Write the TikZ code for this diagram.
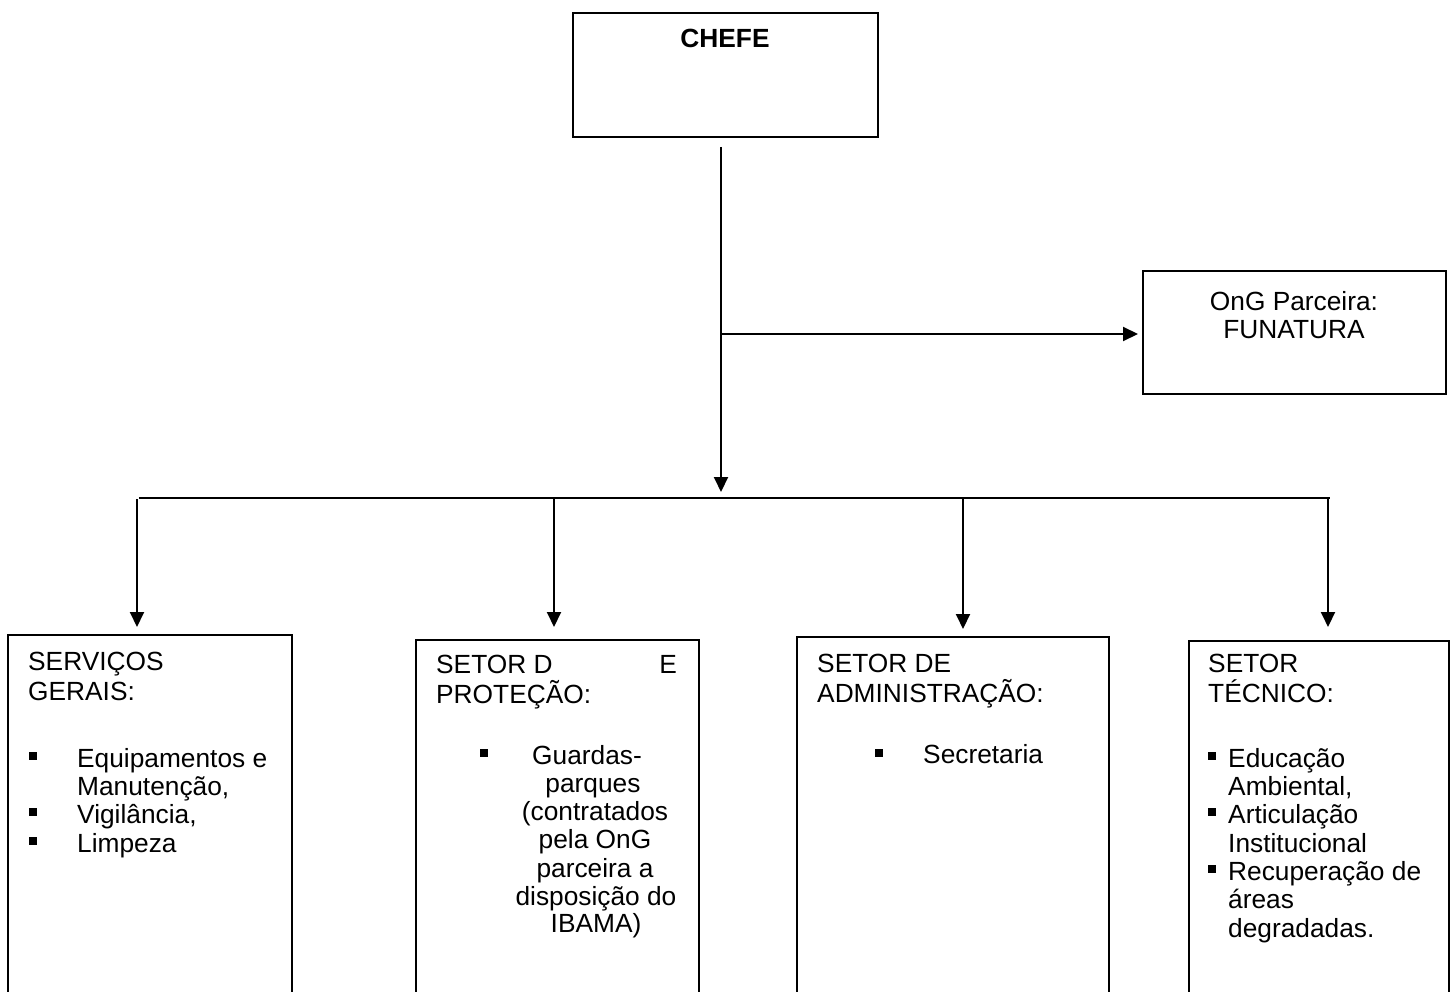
\documentclass[tikz,border=0pt]{standalone}
\usepackage{fontspec}
\setmainfont{Liberation Sans}
\usetikzlibrary{arrows.meta}
\begin{document}
\begin{tikzpicture}[x=1pt,y=-1pt,
  box/.style={draw, line width=1.6pt, rectangle, inner sep=0pt, anchor=north west},
  conn/.style={line width=2pt},
  arr/.style={conn, -{Triangle[length=15pt,width=14pt]}},
  lt/.style={anchor=base west, inner sep=0pt, font=\fontsize{26.3}{30}\selectfont},
  rt/.style={anchor=base east, inner sep=0pt, font=\fontsize{26.3}{30}\selectfont},
  ct/.style={anchor=base, inner sep=0pt, font=\fontsize{26.3}{30}\selectfont},
  bul/.style={fill, rectangle, minimum size=7.5pt, inner sep=0pt}]
\useasboundingbox (0,0) rectangle (1456,992);
\clip (0,0) rectangle (1456,992);

% top box
\node[box, minimum width=305pt, minimum height=124pt] (chefe) at (572,12) {};
\node[ct, font=\fontsize{26.3}{30}\selectfont\bfseries] (chefet) at (725,48) {CHEFE};

% partner box
\node[box, minimum width=303pt, minimum height=123pt] (ong) at (1142,270) {};
\node[ct] (ong1) at (1294,310) {OnG Parceira:};
\node[ct] (ong2) at (1294,338) {FUNATURA};

% bottom boxes
\node[box, minimum width=284pt, minimum height=370pt] (b1) at (7,634) {};
\node[box, minimum width=283pt, minimum height=370pt] (b2) at (415,639) {};
\node[box, minimum width=312pt, minimum height=370pt] (b3) at (796,636) {};
\node[box, minimum width=260pt, minimum height=370pt] (b4) at (1188,640) {};

% connectors
\coordinate (trunkA) at (721,147);
\coordinate (trunkB) at (721,492);
\coordinate (branch) at (721,334);
\draw[arr] (trunkA) -- (trunkB);
\draw[arr, shorten >=4pt] (branch) -- (ong.west |- branch);
\coordinate (busL) at (139,498);
\coordinate (busR) at (1330,498);
\draw[conn] (busL) -- (busR);
\coordinate (d1) at (137,499);
\coordinate (d2) at (554,499);
\coordinate (d3) at (963,499);
\coordinate (d4) at (1328,499);
\draw[arr, shorten >=7pt] (d1) -- (d1 |- b1.north);
\draw[arr, shorten >=12pt] (d2) -- (d2 |- b2.north);
\draw[arr, shorten >=7pt] (d3) -- (d3 |- b3.north);
\draw[arr, shorten >=13pt] (d4) -- (d4 |- b4.north);

% box 1 text
\node[lt] (s1a) at (28,670) {SERVIÇOS};
\node[lt] (s1b) at (28,700) {GERAIS:};
\node[bul] (p1a) at (33,756) {};
\node[lt] (s1c) at (77,767) {Equipamentos e};
\node[lt] (s1d) at (77,795) {Manutenção,};
\node[bul] (p1b) at (33,812) {};
\node[lt] (s1e) at (77,823) {Vigilância,};
\node[bul] (p1c) at (33,841) {};
\node[lt] (s1f) at (77,852) {Limpeza};

% box 2 text
\node[lt] (s2a) at (436,673) {SETOR D};
\node[rt] (s2b) at (677,673) {E};
\node[lt] (s2c) at (436,703) {PROTEÇÃO:};
\node[bul] (p2a) at (484,753) {};
\node[ct] (s2d) at (587,764) {Guardas-};
\node[ct] (s2e) at (593,792) {parques};
\node[ct] (s2f) at (595,820) {(contratados};
\node[ct] (s2g) at (595,848) {pela OnG};
\node[ct] (s2h) at (595,877) {parceira a};
\node[ct] (s2i) at (596,905) {disposição do};
\node[ct] (s2j) at (596,932) {IBAMA)};

% box 3 text
\node[lt] (s3a) at (817,672) {SETOR DE};
\node[lt] (s3b) at (817,702) {ADMINISTRAÇÃO:};
\node[bul] (p3a) at (879,753) {};
\node[lt] (s3c) at (923,763) {Secretaria};

% box 4 text
\node[lt] (s4a) at (1208,672) {SETOR};
\node[lt] (s4b) at (1208,702) {TÉCNICO:};
\node[bul] (p4a) at (1212,756) {};
\node[lt] (s4c) at (1228,767) {Educação};
\node[lt] (s4d) at (1228,795) {Ambiental,};
\node[bul] (p4b) at (1212,812) {};
\node[lt] (s4e) at (1228,823) {Articulação};
\node[lt] (s4f) at (1228,852) {Institucional};
\node[bul] (p4c) at (1212,869) {};
\node[lt] (s4g) at (1228,880) {Recuperação de};
\node[lt] (s4h) at (1228,908) {áreas};
\node[lt] (s4i) at (1228,937) {degradadas.};
\end{tikzpicture}
\end{document}
